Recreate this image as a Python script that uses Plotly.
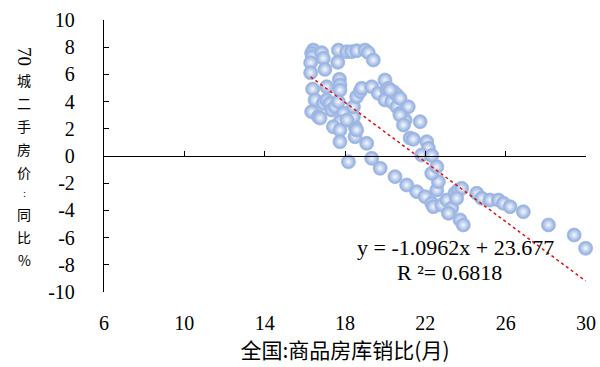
import plotly.graph_objects as go
import numpy as np

# 全国:商品房库销比(月)
inv_ratio = [16.42, 16.34, 16.37, 16.29, 16.29, 16.84, 16.92, 17.00, 17.67, 17.64,
             18.09, 18.33, 18.58, 19.00, 19.16, 19.41, 17.72, 16.39, 17.09, 17.75,
             17.75, 16.51, 16.34, 16.67, 16.92, 17.09, 17.25, 17.34, 17.50, 17.67,
             17.92, 17.75, 17.42, 17.75, 17.75, 18.50, 18.50, 18.42, 18.42, 18.58,
             18.75, 18.83, 19.33, 19.66, 20.08, 19.99, 20.33, 20.58, 20.74, 20.99,
             19.08, 18.17, 19.33, 21.24, 19.99, 20.16, 20.41, 20.58, 20.74, 21.15,
             20.74, 20.91, 21.74, 21.40, 22.07, 22.15, 21.82, 22.32, 19.75, 20.49,
             21.07, 21.57, 21.99, 22.32, 22.40, 22.57, 22.65, 22.32, 22.57, 22.82,
             23.07, 23.31, 23.48, 23.64, 23.81, 23.15, 23.73, 23.89, 23.56, 24.56,
             24.81, 25.22, 25.64, 25.89, 26.22, 26.88, 28.13, 29.41, 29.98, 16.76,
             18.58, 18.10, 20.24]
# 70城二手房价:同比%
price_yoy = [7.79, 7.55, 7.30, 6.86, 6.12, 7.60, 7.18, 6.37, 7.79, 6.89,
             7.67, 7.67, 7.74, 7.79, 7.60, 7.06, 5.64, 4.92, 5.09, 5.22,
             4.85, 4.12, 3.26, 2.89, 3.87, 4.12, 3.87, 3.38, 3.62, 3.99,
             3.14, 2.52, 2.15, 1.91, 1.05, 2.15, 1.42, 2.89, 3.62, 4.36,
             4.73, 4.98, 5.09, 4.61, 4.85, 4.12, 3.99, 3.62, 3.14, 2.65,
             0.93, -0.42, -0.17, 1.32, 5.59, 4.98, 4.73, 4.49, 4.24, 3.62,
             3.01, 2.28, 2.52, 1.23, 1.05, 0.57, 0.07, 0.04, -0.90, -1.52,
             -2.13, -2.62, -2.99, -3.48, -3.73, -2.50, -1.89, -1.27, -0.79, -3.60,
             -3.24, -3.84, -2.74, -2.50, -2.38, -4.21, -4.70, -5.07, -3.11, -2.74,
             -3.11, -3.24, -3.24, -3.48, -3.73, -4.10, -5.07, -5.81, -6.78, 2.79,
             1.91, 2.65, 4.85]

slope = -1.0962
intercept = 23.677
r2 = 0.6818

x_ticks = [6, 10, 14, 18, 22, 26, 30]
y_ticks = [10, 8, 6, 4, 2, 0, -2, -4, -6, -8, -10]
y_title_chars = list("城二手房价:同比%")

serif = "Liberation Serif, Times New Roman, serif"
cjk = "Noto Sans CJK SC, sans-serif"

fig = go.Figure()
fig.add_trace(go.Scatter(
    x=inv_ratio, y=price_yoy, mode="markers", cliponaxis=False,
    marker=dict(size=14, color="#8aa9de",
                gradient=dict(type="radial", color="#f6f8fd"),
                line=dict(color="#a3bbe4", width=0.8)),
    showlegend=False, hoverinfo="x+y"))

tx = np.array([min(inv_ratio), max(inv_ratio)])
fig.add_trace(go.Scatter(
    x=tx, y=slope * tx + intercept, mode="lines", cliponaxis=False,
    line=dict(color="#e01010", width=1.5, dash="dot"),
    showlegend=False, hoverinfo="skip"))

# invisible trace to bind the zero-line axis
fig.add_trace(go.Scatter(x=[], y=[], xaxis="x2", yaxis="y", showlegend=False))

fig.update_layout(
    width=600, height=367,
    margin=dict(l=104, r=14, t=20, b=75, autoexpand=False),
    paper_bgcolor="white", plot_bgcolor="white",
    xaxis=dict(range=[6, 30], tickvals=x_ticks, ticktext=[str(v) for v in x_ticks],
               showgrid=False, zeroline=False, showline=False, ticks="",
               automargin=False, ticklabelstandoff=17,
               tickfont=dict(family=serif, size=20, color="black"),
               title=dict(text="全国:商品房库销比(月)", standoff=8,
                          font=dict(family=cjk, size=21, color="black"))),
    xaxis2=dict(matches="x", overlaying="x", anchor="free", position=0.5,
                range=[6, 30], tickvals=x_ticks, showticklabels=False,
                showgrid=False, zeroline=False, showline=True, automargin=False,
                linecolor="black", linewidth=1.3,
                ticks="inside", ticklen=5, tickcolor="black", tickwidth=1.3),
    yaxis=dict(range=[-10, 10], tickvals=y_ticks, ticktext=[str(v) for v in y_ticks],
               showgrid=False, zeroline=False, showline=True, automargin=False,
               linecolor="black", linewidth=1.3,
               ticks="inside", ticklen=5, tickcolor="black", tickwidth=1.3,
               ticklabelstandoff=24,
               tickfont=dict(family=serif, size=20, color="black")),
)

# vertical y-axis title: "70" rotated, then stacked upright characters
title_x = (24 - 104) / 482
fig.add_annotation(xref="paper", yref="paper", x=title_x, y=1 - (56 - 20) / 272,
                   xanchor="center", yanchor="middle",
                   text="70", textangle=90, showarrow=False, borderpad=0,
                   font=dict(family=serif, size=19, color="black"))
char_centers_px = [80, 103, 126, 149, 172, 193, 214, 237, 260]
for ch, py in zip(y_title_chars, char_centers_px):
    is_colon = ch == ":"
    fig.add_annotation(xref="paper", yref="paper", x=title_x, y=1 - (py - 20) / 272,
                       xanchor="center", yanchor="middle",
                       text=ch, showarrow=False, borderpad=0,
                       font=dict(family=serif if is_colon else cjk,
                                 size=11 if is_colon else 14, color="black"))

eq = f"y = {slope:.4f}x + {intercept:.3f}"
fig.add_annotation(x=23.48, y=-6.76, text=eq, showarrow=False,
                   font=dict(family=serif, size=22, color="black"))
fig.add_annotation(x=23.18, y=-8.6, text=f"R ²= {r2:.4f}", showarrow=False,
                   font=dict(family=serif, size=22, color="black"))

fig.write_html("out.html")
